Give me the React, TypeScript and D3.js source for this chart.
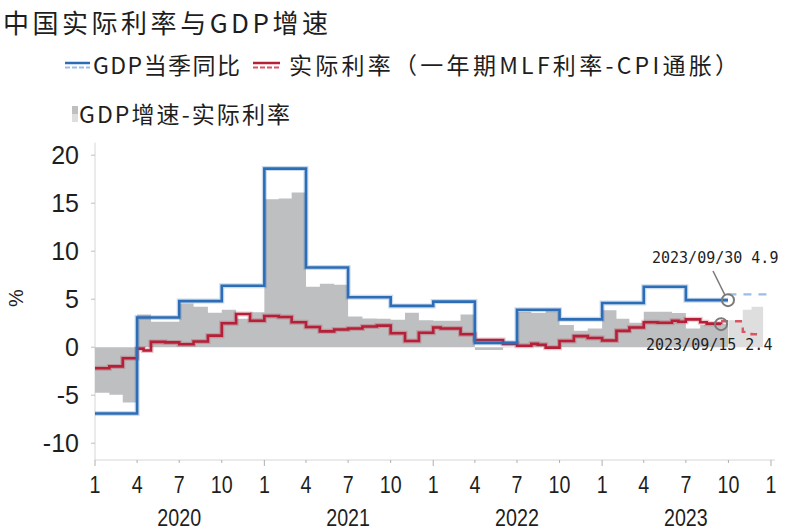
import React from "react";
import * as d3 from "d3";

// ---------- data ----------
// GDP当季同比, quarterly, starting 2020Q1
const gdpQuarterStart = "2020-01-01";
const gdpYoY = [-6.9, 3.1, 4.8, 6.4, 18.6, 8.3, 5.2, 4.3, 4.75, 0.45, 3.9, 2.9, 4.6, 6.3, 4.9];
const gdpLastDate = "2023-09-30";
// forecast (dashed)
const gdpForecastDates = ["2023-10-01", "2024-01-01"];
const gdpForecastValues = [5.5, 5.5];

// 实际利率 change points (step after)
const realDates = [
  "2020-01-01", "2020-02-01", "2020-03-01", "2020-04-01", "2020-04-15", "2020-05-01", "2020-06-01",
  "2020-07-01", "2020-08-01", "2020-09-01", "2020-10-01", "2020-11-01", "2020-12-01",
  "2021-01-01", "2021-02-01", "2021-03-01", "2021-04-01", "2021-05-01", "2021-06-01",
  "2021-07-01", "2021-08-01", "2021-09-01", "2021-10-01", "2021-11-01", "2021-12-01",
  "2022-01-01", "2022-01-17", "2022-02-01", "2022-03-01", "2022-04-01", "2022-05-01", "2022-06-01",
  "2022-07-01", "2022-08-01", "2022-08-15", "2022-09-01", "2022-10-01", "2022-11-01", "2022-12-01",
  "2023-01-01", "2023-02-01", "2023-03-01", "2023-04-01", "2023-05-01", "2023-06-01", "2023-06-15",
  "2023-07-01", "2023-08-01", "2023-08-15", "2023-09-15",
];
const realValues = [
  -2.2, -2.0, -1.15, -0.15, -0.35, 0.55, 0.5,
  0.3, 0.6, 1.2, 2.5, 3.45, 2.75,
  3.25, 3.15, 2.6, 2.1, 1.65, 1.85,
  1.95, 2.15, 2.25, 1.45, 0.65, 1.5,
  2.05, 1.95, 1.95, 1.35, 0.75, 0.75, 0.35,
  0.15, 0.35, 0.25, -0.05, 0.65, 1.15, 0.95,
  0.7, 1.7, 2.05, 2.6, 2.55, 2.75, 2.65,
  2.9, 2.6, 2.45, 2.4,
];
// 实际利率 forecast (dashed)
const realForecastDates = ["2023-09-15", "2023-11-01", "2023-11-20", "2023-12-15"];
const realForecastValues = [2.7, 1.6, 1.35, 1.35];

// GDP增速-实际利率, monthly from 2020-01 to 2023-09
const spreadStart = "2020-01-01";
const spreadMonthly = [
  -4.75, -4.95, -5.75, 3.4, 2.65, 2.65, 4.55, 4.2, 3.6, 3.9, 2.95, 3.65,
  15.4, 15.5, 16.1, 6.3, 6.6, 6.5, 3.2, 3.0, 2.95, 2.85, 3.6, 2.8,
  2.75, 2.75, 3.4, -0.3, -0.3, 0.05, 3.7, 3.55, 3.9, 2.3, 1.7, 1.95,
  3.85, 2.95, 2.55, 3.7, 3.7, 3.55, 1.95, 2.3, 2.45,
];
const spreadForecastDates = ["2023-10-01", "2023-11-01", "2023-11-20", "2023-12-15"];
const spreadForecastValues = [2.8, 3.9, 4.2, 4.2];

const yTicks = [-10, -5, 0, 5, 10, 15, 20];
const years = [2020, 2021, 2022, 2023];

const annGdp = { date: "2023-09-30", value: 4.9, label: "2023/09/30  4.9" };
const annReal = { date: "2023-09-15", value: 2.4, label: "2023/09/15  2.4" };

// ---------- styles ----------
const BLUE = "#2C6DB7";
const BLUE_LIGHT = "#9CBDE6";
const RED = "#B51F37";
const RED_LIGHT = "#DA5464";
const GRAY = "#BEBFC1";
const GRAY_LIGHT = "#DEDEDF";
const AXIS = "#D6D6D6";
const TEXT = "#1E1E1E";
const CJK = "'Noto Sans CJK SC', 'Noto Sans', sans-serif";
const ARIAL = "'Liberation Sans', Arial, sans-serif";

const W = 788;
const H = 531;

export default function App() {
  const parse = d3.timeParse("%Y-%m-%d");
  const x = d3
    .scaleTime()
    .domain([new Date(2020, 0, 1), new Date(2024, 0, 1)])
    .range([95, 771]);
  const y = d3.scaleLinear().domain([-11.75, 21.3]).range([460, 142.7]);

  type P = [Date, number];
  const lineStep = d3
    .line<P>()
    .x((d) => x(d[0]))
    .y((d) => y(d[1]))
    .curve(d3.curveStepAfter);
  const areaStep = d3
    .area<P>()
    .x((d) => x(d[0]))
    .y0(() => y(0))
    .y1((d) => y(d[1]))
    .curve(d3.curveStepAfter);

  const q0 = parse(gdpQuarterStart)!;
  const gdpPts: P[] = gdpYoY.map((v, i) => [d3.timeMonth.offset(q0, 3 * i), v]);
  gdpPts.push([parse(gdpLastDate)!, gdpYoY[gdpYoY.length - 1]]);
  const gdpFc: P[] = gdpForecastDates.map((d, i) => [parse(d)!, gdpForecastValues[i]]);

  const realPts: P[] = realDates.map((d, i) => [parse(d)!, realValues[i]]);
  const realFc: P[] = realForecastDates.map((d, i) => [parse(d)!, realForecastValues[i]]);

  const s0 = parse(spreadStart)!;
  const spreadPts: P[] = spreadMonthly.map((v, i) => [d3.timeMonth.offset(s0, i), v]);
  spreadPts.push([parse(gdpLastDate)!, spreadMonthly[spreadMonthly.length - 1]]);
  const spreadFc: P[] = spreadForecastDates.map((d, i) => [parse(d)!, spreadForecastValues[i]]);

  const xTicks = d3.timeMonth.every(3)!.range(new Date(2020, 0, 1), new Date(2024, 0, 2));

  const gx = x(parse(annGdp.date)!);
  const gy = y(annGdp.value);
  const rx = x(parse(annReal.date)!);
  const ry = y(annReal.value);

  return (
    <svg
      width={W}
      height={H}
      style={{ position: "absolute", left: 0, top: 0, background: "#fff" }}
    >
      {/* title */}
      <text x={3} y={33} fontFamily={CJK} fontSize={26} fill={TEXT} textLength={325} lengthAdjust="spacing">
        中国实际利率与GDP增速
      </text>

      {/* legend row 1 */}
      <g>
        <line x1={65} x2={90} y1={63} y2={63} stroke={BLUE} strokeWidth={2.5} />
        <line x1={65} x2={90} y1={67.5} y2={67.5} stroke={BLUE_LIGHT} strokeWidth={2} strokeDasharray="5,2" />
        <text x={93} y={74} fontFamily={CJK} fontSize={23} fill={TEXT} textLength={147} lengthAdjust="spacing">
          GDP当季同比
        </text>
        <line x1={253} x2={280} y1={63} y2={63} stroke={RED} strokeWidth={2.5} />
        <line x1={253} x2={280} y1={67.5} y2={67.5} stroke={RED_LIGHT} strokeWidth={2} strokeDasharray="5,2" />
        <text x={289} y={74} fontFamily={CJK} fontSize={23} fill={TEXT} textLength={449} lengthAdjust="spacing">
          实际利率（一年期MLF利率-CPI通胀）
        </text>
      </g>
      {/* legend row 2 */}
      <g>
        <rect x={72} y={106} width={6} height={8} fill={GRAY} />
        <rect x={72} y={114} width={6} height={8} fill={GRAY_LIGHT} />
        <text x={79} y={123} fontFamily={CJK} fontSize={23} fill={TEXT} textLength={211} lengthAdjust="spacing">
          GDP增速-实际利率
        </text>
      </g>

      {/* y axis */}
      <line x1={95} x2={95} y1={y(21.3)} y2={460} stroke={AXIS} strokeWidth={1} />
      {yTicks.map((t) => (
        <g key={t}>
          <line x1={91} x2={95} y1={y(t)} y2={y(t)} stroke="#BFBFBF" strokeWidth={1} />
          <text
            x={79}
            y={y(t)}
            dy="0.36em"
            textAnchor="end"
            fontFamily={ARIAL}
            fontSize={25}
            fill={TEXT}
          >
            {t}
          </text>
        </g>
      ))}
      <text
        transform={`translate(23,298) rotate(-90)`}
        textAnchor="middle"
        fontFamily={ARIAL}
        fontSize={20}
        fill={TEXT}
      >
        %
      </text>

      {/* x axis */}
      <line x1={95} x2={775} y1={460} y2={460} stroke={AXIS} strokeWidth={1} />
      {xTicks.map((t, i) => {
        const major = t.getMonth() === 0;
        return (
          <g key={i}>
            <line
              x1={x(t)}
              x2={x(t)}
              y1={460}
              y2={major ? 466 : 463}
              stroke="#AFAFAF"
              strokeWidth={1}
            />
            <text
              transform={`translate(${x(t)},${493}) scale(0.82,1)`}
              textAnchor="middle"
              fontFamily={ARIAL}
              fontSize={24}
              fill={TEXT}
            >
              {t.getMonth() + 1}
            </text>
          </g>
        );
      })}
      {years.map((yr) => (
        <text
          key={yr}
          transform={`translate(${x(new Date(yr, 6, 1))},${526}) scale(0.82,1)`}
          textAnchor="middle"
          fontFamily={ARIAL}
          fontSize={24}
          fill={TEXT}
        >
          {yr}
        </text>
      ))}

      {/* spread bars */}
      <path d={areaStep(spreadPts)!} fill={GRAY} />
      <path d={areaStep(spreadFc)!} fill={GRAY_LIGHT} />

      {/* real rate */}
      <path d={lineStep(realPts)!} fill="none" stroke={RED} strokeOpacity={0.25} strokeWidth={5} />
      <path d={lineStep(realPts)!} fill="none" stroke={RED} strokeWidth={2.6} />
      <path d={lineStep(realFc)!} fill="none" stroke={RED_LIGHT} strokeWidth={2.4} strokeDasharray="7,7" />

      {/* GDP */}
      <path d={lineStep(gdpPts)!} fill="none" stroke={BLUE} strokeOpacity={0.25} strokeWidth={5} />
      <path d={lineStep(gdpPts)!} fill="none" stroke={BLUE} strokeWidth={2.6} />
      <path d={lineStep(gdpFc)!} fill="none" stroke={BLUE_LIGHT} strokeWidth={2.4} strokeDasharray="8,7" />

      {/* annotations */}
      <line x1={713} y1={271} x2={gx - 3} y2={gy - 5} stroke="#7A7A7A" strokeWidth={1.5} />
      <circle cx={gx} cy={gy} r={6} fill="none" stroke="#7A7A7A" strokeWidth={2} />
      <text x={652} y={263} fontFamily="'DejaVu Sans Mono', monospace" fontSize={15} fill={TEXT}>
        {annGdp.label}
      </text>
      <circle cx={rx} cy={ry} r={6} fill="none" stroke="#7A7A7A" strokeWidth={2} />
      <text x={646} y={350} fontFamily="'DejaVu Sans Mono', monospace" fontSize={15} fill={TEXT}>
        {annReal.label}
      </text>
    </svg>
  );
}
